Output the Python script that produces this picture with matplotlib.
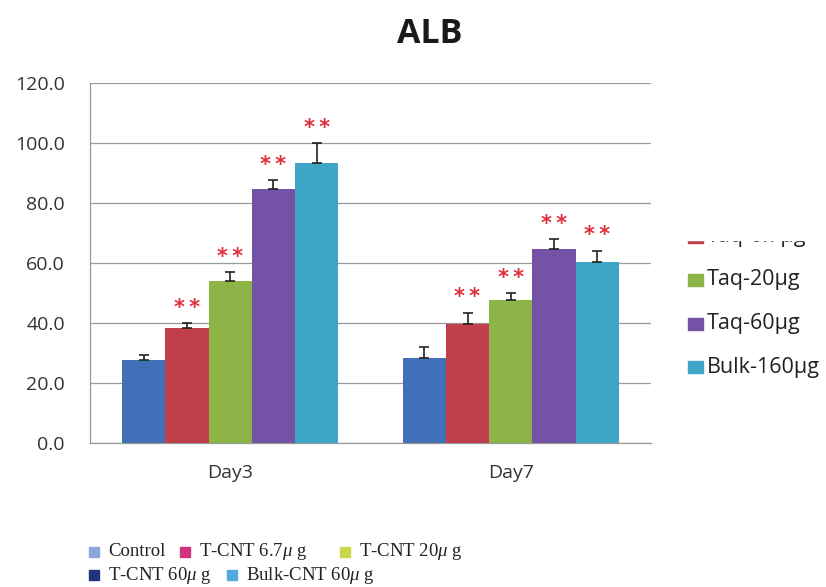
import matplotlib
matplotlib.use("Agg")
import matplotlib.pyplot as plt
from matplotlib.patches import Rectangle
import numpy as np

# ---- data -------------------------------------------------------------
days = ["Day3", "Day7"]
groups = ["Control", "Taq-6.7\u00b5g", "Taq-20\u00b5g", "Taq-60\u00b5g", "Bulk-160\u00b5g"]
alb_day3 = [27.8, 38.3, 54.0, 84.7, 93.3]
alb_day7 = [28.3, 39.8, 47.6, 64.6, 60.2]
sd_day3 = [1.4, 1.7, 2.9, 3.0, 6.7]
sd_day7 = [3.7, 3.7, 2.4, 3.4, 3.9]
signif_day3 = ["", "**", "**", "**", "**"]
signif_day7 = ["", "**", "**", "**", "**"]
yticks = [0, 20, 40, 60, 80, 100, 120]

legend_labels = ["Control", "T-CNT 6.7$\\mu$ g", "T-CNT 20$\\mu$ g",
                 "T-CNT 60$\\mu$ g", "Bulk-CNT 60$\\mu$ g"]
legend_colors = ["#8aa6dc", "#d2337c", "#c9d64e", "#24347c", "#52a9de"]

bar_colors = ["#4270b8", "#c13f4b", "#8db447", "#7452a6", "#3ea5c7"]

# ---- figure -----------------------------------------------------------
W, H = 826, 587
plt.rcParams["mathtext.fontset"] = "custom"
plt.rcParams["mathtext.rm"] = "Liberation Serif"
plt.rcParams["mathtext.it"] = "Liberation Serif:italic"

fig = plt.figure(figsize=(W / 100, H / 100), dpi=100)
fig.patch.set_facecolor("white")


def fx(px):
    return px / W


def fy(py):
    return 1 - py / H


ax = fig.add_axes([fx(90), fy(443), fx(651) - fx(90), fy(83) - fy(443)])

x = np.arange(len(days))
n = len(groups)
bw = 0.154
values = np.array([alb_day3, alb_day7])
errs = np.array([sd_day3, sd_day7])
signif = [signif_day3, signif_day7]

for i in range(n):
    xpos = x + (i - (n - 1) / 2) * bw
    vals = values[:, i]
    e = errs[:, i]
    ax.bar(xpos, vals, width=bw, color=bar_colors[i], zorder=3, linewidth=0)
    ax.errorbar(xpos, vals, yerr=[np.zeros_like(e), e], fmt="none",
                ecolor="#222222", elinewidth=1.2, capsize=3.6, capthick=1.2,
                zorder=4)
    for j in range(len(days)):
        s = signif[j][i]
        if s:
            ax.annotate(s.replace("**", "*\u2009*"), (xpos[j], vals[j] + e[j]),
                        xytext=(0, 11), textcoords="offset points",
                        ha="center", va="center", color="#e0303a",
                        fontsize=15, fontweight="bold", family="DejaVu Sans")

ax.set_xlim(-0.5, 1.5)
ax.set_ylim(0, 120)
ax.set_yticks(yticks)
ax.set_yticklabels([f"{t:.1f}" for t in yticks], family="Open Sans",
                   fontsize=14, color="#333333")
ax.set_xticks(x)
ax.set_xticklabels(days, family="Open Sans", fontsize=14, color="#333333")
ax.tick_params(axis="y", length=0, pad=18)
ax.tick_params(axis="x", length=0, pad=15)
ax.yaxis.grid(True, color="#999999", linewidth=0.9, zorder=0)
ax.set_axisbelow(True)
for side in ("top", "right"):
    ax.spines[side].set_visible(False)
for side in ("left", "bottom"):
    ax.spines[side].set_color("#999999")
    ax.spines[side].set_linewidth(0.9)

fig.text(fx(430), fy(34), "ALB", ha="center", va="center", fontsize=24.5,
         fontweight="bold", family="Open Sans", color="#1a1a1a")

# ---- series legend at the right --------------------------------------
for k, i in enumerate(range(1, n)):
    yc = 236.5 + 43.5 * k
    fig.patches.append(Rectangle((fx(688), fy(yc + 6)), fx(15) - fx(0),
                                 (6 + 6) / H, transform=fig.transFigure,
                                 color=bar_colors[i], figure=fig))
    fig.text(fx(707), fy(yc), groups[i], ha="left", va="center",
             fontsize=15.5, family="Open Sans", color="#222222")
# paper strip laid over the upper part of the legend
fig.patches.append(Rectangle((fx(672), fy(240)), fx(826) - fx(672), 240 / H,
                             transform=fig.transFigure, color="white",
                             zorder=10, figure=fig))

# ---- sample legend below ---------------------------------------------
legend_pos = [(89, 552), (180, 552), (340, 552), (89, 575), (227, 575)]
for (px, py), lab, col in zip(legend_pos, legend_labels, legend_colors):
    fig.patches.append(Rectangle((fx(px), fy(py + 5)), fx(10) - fx(0),
                                 10 / H, transform=fig.transFigure,
                                 color=col, figure=fig))
    fig.text(fx(px + 19), fy(py), lab, ha="left", va="center",
             fontsize=13.5, family="Liberation Serif", color="#222222")

fig.savefig("out.png", dpi=100, facecolor="white")
